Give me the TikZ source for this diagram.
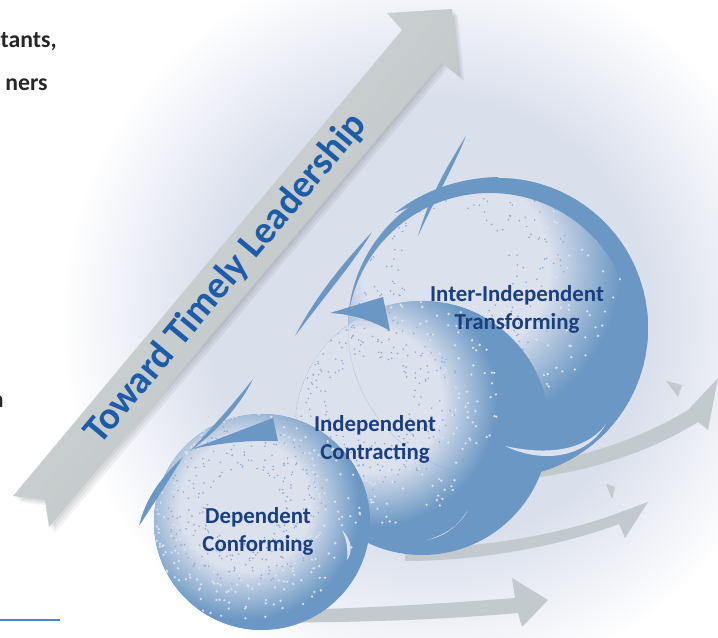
\documentclass[tikz,border=0pt]{standalone}
\usepackage{fontspec}
\setmainfont{Carlito}
\usepackage{tikz}
\usetikzlibrary{positioning}

\definecolor{bgc}{HTML}{DADFEC}
\definecolor{sphc}{HTML}{6A97C3}
\definecolor{litc}{HTML}{DCE1EE}
\definecolor{arrowc}{HTML}{C3CACD}
\definecolor{ribbonhi}{HTML}{D7DBDC}
\definecolor{ribbonlo}{HTML}{B7BDBF}
\definecolor{titlec}{HTML}{1C5CA8}
\definecolor{labelc}{HTML}{1B3F7E}
\definecolor{fragc}{HTML}{262626}
\definecolor{rulec}{HTML}{4A86C8}

% the 25bp ring of a radial shading sits on the edge of the shaded circle
\pgfdeclareradialshading{bgglow}{\pgfpoint{0bp}{0bp}}{color(0bp)=(bgc); color(15bp)=(bgc); color(25bp)=(white); color(50bp)=(white)}
\pgfdeclareradialshading{spherelit}{\pgfpoint{0bp}{0bp}}{color(0bp)=(litc); color(13bp)=(litc); color(23bp)=(sphc); color(25bp)=(sphc); color(50bp)=(sphc)}

\tikzset{
  lbl/.style={font=\bfseries\fontsize{13}{16}\selectfont, text=labelc, align=center},
  frag/.style={font=\bfseries\fontsize{13.5}{16}\selectfont, text=fragc, anchor=base east, inner sep=0pt},
  grayarrow/.style={fill=arrowc},
  swoosh/.style={fill=sphc},
  sliver/.style={fill=litc}
}

\begin{document}
\begin{tikzpicture}[x=0.02cm,y=-0.02cm]
\useasboundingbox (0,0) rectangle (718,638);
\clip (0,0) rectangle (718,638);
\fill[white] (0,0) rectangle (718,638);
\shade[shading=bgglow] (430,320) circle (370);

% ribbon arrow with a soft shadow
\foreach \s in {2,4,6}
  \fill[black, opacity=0.05, shift={(\s,\s)}] (13,496) -- (45,500) -- (49,527) -- (442,62) -- (458,75)
    -- (452,9) -- (387,13) -- (402,30) -- cycle;
\shade[top color=ribbonhi, bottom color=ribbonlo, shading angle=50]
  (13,496) coordinate (tailL) -- (45,500) -- (49,527) coordinate (tailR) -- (442,62) -- (458,75)
  -- (452,9) coordinate (tip) -- (387,13) -- (402,30) -- cycle;
\node[rotate=50.1, font=\bfseries\fontsize{22}{26}\selectfont, text=titlec] (title) at (226,279) {Toward Timely Leadership};

% gray arrows under the balls
\fill[grayarrow] (470,470) .. controls (560,468) and (635,442) .. (688,410) -- (718,378) -- (708,430) -- (698,422)
  .. controls (640,458) and (560,482) .. (470,482) -- cycle;
\fill[grayarrow] (666,381) -- (682,385) -- (678,397) -- cycle;
\fill[grayarrow] (405,549) .. controls (480,548) and (560,535) .. (618,513) -- (648,502) -- (625,538) -- (619,524)
  .. controls (560,546) and (480,561) .. (405,561) -- cycle;
\fill[grayarrow] (606,484) -- (615,487) -- (612,499) -- cycle;
\fill[grayarrow] (230,611) .. controls (350,610) and (450,603) .. (515,598) -- (512,578) -- (548,600) -- (522,627)
  -- (518,613) .. controls (450,619) and (350,624) .. (230,622) -- cycle;

% balls, lit from the upper left, with a sprayed edge
\pgfmathsetseed{7}
\foreach \cx/\cy/\r/\hx/\hy/\R in {498/328/150/455/265/180, 422/428/127/370/400/138, 262/522/108/245/505/125}{
  \fill[sphc] (\cx,\cy) circle (\r);
  \begin{scope}
    \clip (\cx,\cy) circle (\r);
    \shade[shading=spherelit] (\hx,\hy) circle (\R);
    \foreach \k in {1,...,260}{
      \pgfmathsetmacro\ang{rnd*360}
      \pgfmathsetmacro\rad{(0.55+0.38*rnd)*\R}
      \fill[litc] (\hx,\hy) ++(\ang:\rad) circle (1.3);
      \pgfmathsetmacro\angb{rnd*360}
      \pgfmathsetmacro\radb{(0.3+0.35*rnd)*\R}
      \fill[sphc!70!litc] (\hx,\hy) ++(\angb:\radb) circle (0.9);
    }
  \end{scope}
}
\begin{scope}
  \clip (498,328) circle (150);
  \fill[sphc, even odd rule] (498,328) circle (150) (490,336) circle (143);
\end{scope}

% swooshes
\fill[swoosh] (466,136) .. controls (448,165) and (430,195) .. (418,236) .. controls (436,197) and (454,166) .. (466,136) -- cycle;
\fill[swoosh] (395,213) .. controls (420,193) and (455,178) .. (498,177) -- (498,188) .. controls (460,190) and (425,200) .. (395,213) -- cycle;
\fill[swoosh] (372,232) .. controls (348,258) and (318,292) .. (295,336) .. controls (324,297) and (354,262) .. (372,232) -- cycle;
\fill[swoosh] (330,313) -- (383,297) -- (390,331) .. controls (372,320) and (350,314) .. (330,313) -- cycle;
\fill[swoosh] (253,379) .. controls (235,402) and (212,428) .. (190,451) .. controls (216,432) and (240,406) .. (253,379) -- cycle;
\fill[swoosh] (192,449) -- (273,418) -- (278,441) .. controls (250,440) and (220,443) .. (192,449) -- cycle;
\fill[swoosh] (183,457) .. controls (160,478) and (145,500) .. (139,526) .. controls (154,503) and (168,482) .. (183,457) -- cycle;

% light slivers
\fill[sliver] (505,446) .. controls (540,463) and (585,460) .. (606,424) .. controls (585,452) and (545,455) .. (505,446) -- cycle;
\fill[sliver] (427,540) .. controls (445,535) and (460,525) .. (468,510) .. controls (455,530) and (442,537) .. (427,540) -- cycle;
\fill[sliver] (342,530) .. controls (352,540) and (353,552) .. (347,560) .. controls (348,550) and (347,540) .. (342,530) -- cycle;

% labels
\node[lbl] (transforming) at (517,309) {Inter-Independent\\Transforming};
\node[lbl] (contracting) at (375,439) {Independent\\Contracting};
\node[lbl] (conforming) at (258,531) {Dependent\\Conforming};

% cut-off page text
\node[frag] (fragA) at (57,48) {tants,};
\node[frag] (fragB) at (48,91) {ners};
\node[frag] (fragC) at (4,408) {n};
\draw[rulec, line width=0.8pt] (0,620) coordinate (ruleL) -- (60,620) coordinate (ruleR);
\end{tikzpicture}
\end{document}
